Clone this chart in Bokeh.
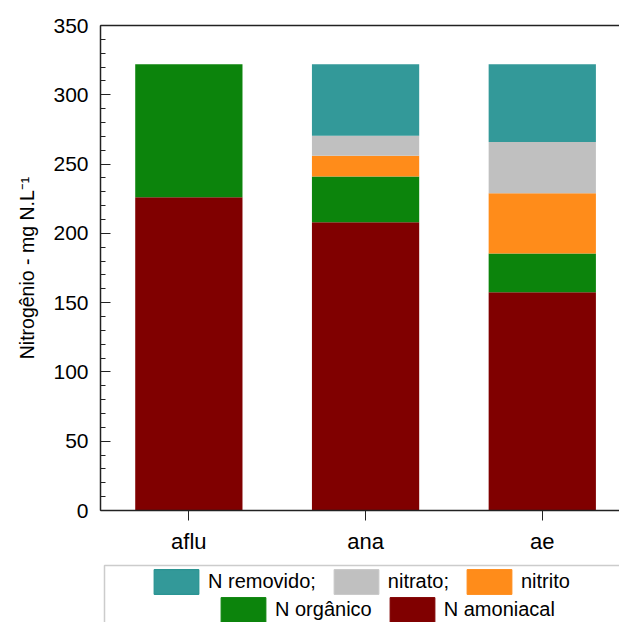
from bokeh.plotting import figure
from bokeh.layouts import column
from bokeh.models import (Range1d, LinearAxis, FixedTicker, Legend, LegendItem,
                          ColumnDataSource, BoxAnnotation)
from bokeh.embed import file_html
from bokeh.resources import INLINE

# ---- data ----
categories = ["aflu", "ana", "ae"]
n_amoniacal = [226, 208, 157.5]
n_organico = [96, 33, 28]
nitrito = [0, 15, 43.5]
nitrato = [0, 14.5, 37]
n_removido = [0, 51.5, 56]

series = ["n_amoniacal", "n_organico", "nitrito", "nitrato", "n_removido"]
labels = ["N amoniacal", "N orgânico", "nitrito", "nitrato;", "N removido;"]
colors = ["#800000", "#0c840c", "#ff8c1a", "#c0c0c0", "#339999"]
edges = ["#800000", "#0c840c", "#ff8c1a", "#c8c8c8", "#1f8f8d"]

xpos = list(range(len(categories)))
src = ColumnDataSource(dict(x=xpos, n_amoniacal=n_amoniacal, n_organico=n_organico,
                            nitrito=nitrito, nitrato=nitrato, n_removido=n_removido))

FONT = "Liberation Sans"
AX = "#222222"

p = figure(width=619, height=562, output_backend="svg", toolbar_location=None,
           x_range=Range1d(-0.5, 2.437), y_range=Range1d(0, 350),
           min_border_left=100, min_border_top=25, min_border_bottom=52,
           min_border_right=0)
p.outline_line_color = None
p.grid.visible = False

p.vbar_stack(series, x="x", width=0.607, source=src,
             color=colors, line_color=None)

# y axis
ya = p.yaxis[0]
ya.ticker = FixedTicker(ticks=list(range(0, 351, 50)),
                        minor_ticks=list(range(0, 351, 10)))
ya.major_tick_in = 10
ya.major_tick_out = 0
ya.minor_tick_in = 5
ya.minor_tick_out = 0
ya.axis_line_width = 1.5
ya.axis_line_color = AX
ya.major_tick_line_color = AX
ya.minor_tick_line_color = AX
ya.major_label_text_font = FONT
ya.major_label_text_font_size = "21px"
ya.major_label_text_color = "black"
ya.major_label_standoff = 12
ya.axis_label = "Nitrogênio - mg N.L\u207b\u00b9"
ya.axis_label_text_font = FONT
ya.axis_label_text_font_style = "normal"
ya.axis_label_text_font_size = "19.5px"
ya.axis_label_text_color = "black"
ya.axis_label_standoff = 12

# x axis
xa = p.xaxis[0]
xa.ticker = FixedTicker(ticks=xpos)
xa.major_label_overrides = {i: c for i, c in zip(xpos, categories)}
xa.major_tick_in = 0
xa.major_tick_out = 10
xa.minor_tick_line_color = None
xa.axis_line_width = 1.5
xa.axis_line_color = AX
xa.major_tick_line_color = AX
xa.major_label_text_font = FONT
xa.major_label_text_font_size = "22px"
xa.major_label_text_color = "black"
xa.major_label_standoff = 8

# top border line
top = LinearAxis(major_tick_line_color=None, minor_tick_line_color=None,
                 major_label_text_font_size="0px", axis_line_width=1.5,
                 axis_line_color=AX)
top.ticker = FixedTicker(ticks=[])
p.add_layout(top, "above")

# ---- legend panel (pixel-scaled helper ranges) ----
lp = figure(width=619, height=60, output_backend="svg", toolbar_location=None,
            x_range=Range1d(0, 519), y_range=Range1d(0, 60),
            x_axis_type=None, y_axis_type=None,
            min_border_left=100, min_border_top=0, min_border_bottom=0,
            min_border_right=0)
lp.outline_line_color = None
lp.grid.visible = False

lp.add_layout(BoxAnnotation(left=4, right=700, bottom=-20, top=57,
                            fill_alpha=0, line_color="#555555", line_width=1.5))

swatches = [lp.vbar(x=[-100], top=[-100], width=1, fill_color=c, line_color=e)
            for c, e in zip(colors, edges)]


def make_legend(idx, loc, spacing):
    items = [LegendItem(label=labels[i], renderers=[swatches[i]]) for i in idx]
    return Legend(items=items, orientation="horizontal", location=loc,
                  glyph_width=56, glyph_height=31, label_standoff=4,
                  spacing=spacing, padding=0, margin=0,
                  border_line_color=None, background_fill_alpha=0,
                  label_text_font=FONT, label_text_font_size="20px",
                  label_text_color="black", label_height=31)


lp.add_layout(make_legend([4, 3, 2], (48, 25), 12))
lp.add_layout(make_legend([1, 0], (115, -3), 12))

open("out.html", "w").write(file_html(column(p, lp, spacing=0), INLINE))
